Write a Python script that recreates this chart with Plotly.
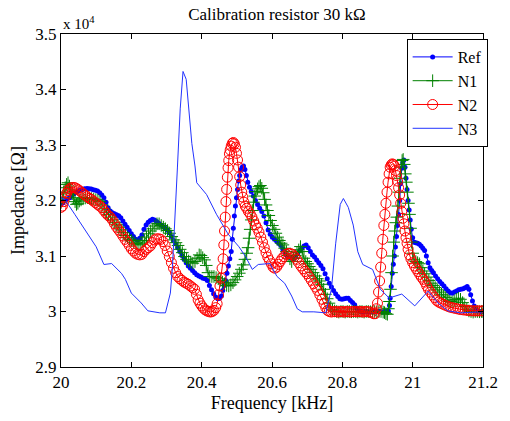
import plotly.graph_objects as go

# ---------------- data (frequency kHz, impedance Ohm) ----------------
ref_pts = [
    (20.000, 31930), (20.006, 31960), (20.012, 32000), (20.018, 32030), (20.025, 32050),
    (20.031, 32090), (20.037, 32120), (20.043, 32150), (20.049, 32170), (20.055, 32190),
    (20.061, 32200), (20.067, 32210), (20.074, 32215), (20.080, 32210), (20.086, 32205),
    (20.092, 32195), (20.098, 32185), (20.104, 32170), (20.110, 32140), (20.116, 32100),
    (20.122, 32050), (20.128, 31970), (20.134, 31870), (20.140, 31810), (20.146, 31780),
    (20.152, 31760), (20.158, 31745), (20.164, 31725), (20.170, 31690), (20.176, 31630),
    (20.182, 31570), (20.188, 31520), (20.194, 31460), (20.200, 31400), (20.206, 31350),
    (20.212, 31300), (20.218, 31290), (20.224, 31320), (20.230, 31380), (20.236, 31480),
    (20.242, 31560), (20.248, 31610), (20.254, 31640), (20.260, 31660), (20.266, 31650),
    (20.272, 31620), (20.278, 31590), (20.284, 31560), (20.290, 31530), (20.296, 31500),
    (20.302, 31470), (20.308, 31420), (20.314, 31350), (20.320, 31280), (20.326, 31220),
    (20.332, 31150), (20.338, 31080), (20.344, 31010), (20.350, 30940), (20.356, 30880),
    (20.362, 30820), (20.368, 30780), (20.374, 30740), (20.380, 30700), (20.386, 30660),
    (20.392, 30640), (20.398, 30620), (20.404, 30600), (20.410, 30590), (20.416, 30560),
    (20.422, 30470), (20.428, 30390), (20.434, 30320), (20.440, 30260), (20.446, 30230),
    (20.451, 30240), (20.456, 30280), (20.460, 30380), (20.464, 30470), (20.468, 30560),
    (20.472, 30690), (20.476, 30820), (20.480, 30950), (20.484, 31080), (20.487, 31300),
    (20.490, 31500), (20.493, 31720), (20.496, 31900), (20.499, 32050), (20.502, 32200),
    (20.505, 32350), (20.508, 32450), (20.511, 32550), (20.515, 32600), (20.519, 32620),
    (20.523, 32560), (20.527, 32450), (20.531, 32330), (20.536, 32240), (20.541, 32160),
    (20.547, 32080), (20.553, 32000), (20.559, 31930), (20.565, 31860), (20.571, 31800),
    (20.577, 31720), (20.583, 31600), (20.589, 31470), (20.595, 31390), (20.601, 31340),
    (20.607, 31300), (20.613, 31270), (20.619, 31230), (20.625, 31190), (20.631, 31120),
    (20.637, 31060), (20.643, 31000), (20.649, 30980), (20.655, 30960), (20.661, 30950),
    (20.667, 30980), (20.673, 31040), (20.679, 31100), (20.685, 31140), (20.691, 31180),
    (20.697, 31200), (20.703, 31150), (20.709, 31080), (20.715, 31020), (20.721, 30980),
    (20.727, 30930), (20.733, 30880), (20.739, 30830), (20.745, 30770), (20.751, 30680),
    (20.757, 30590), (20.763, 30510), (20.769, 30440), (20.775, 30380), (20.781, 30320),
    (20.787, 30270), (20.793, 30230), (20.799, 30220), (20.805, 30230), (20.811, 30240),
    (20.817, 30240), (20.823, 30200), (20.829, 30160), (20.835, 30120), (20.841, 30060),
    (20.847, 30010), (20.853, 30000), (20.859, 29990), (20.865, 30000), (20.871, 30000),
    (20.877, 29990), (20.883, 30000), (20.889, 30000), (20.895, 29990), (20.901, 30000),
    (20.907, 30000), (20.913, 29990), (20.919, 30000), (20.925, 30000), (20.931, 30010),
    (20.934, 30110), (20.936, 30240), (20.939, 30450), (20.942, 30690), (20.945, 30850),
    (20.948, 31000), (20.951, 31160), (20.954, 31350), (20.957, 31550), (20.960, 31750),
    (20.963, 32000), (20.966, 32300), (20.969, 32580), (20.972, 32680), (20.975, 32730),
    (20.978, 32600), (20.981, 32400), (20.984, 32200), (20.987, 32000), (20.990, 31830),
    (20.993, 31650), (20.996, 31480), (21.000, 31330), (21.004, 31250), (21.009, 31240),
    (21.014, 31230), (21.019, 31210), (21.024, 31180), (21.029, 31140), (21.034, 31100),
    (21.039, 31000), (21.044, 30880), (21.049, 30790), (21.054, 30740), (21.059, 30700),
    (21.065, 30640), (21.071, 30590), (21.077, 30540), (21.083, 30500), (21.089, 30460),
    (21.095, 30410), (21.101, 30370), (21.107, 30340), (21.113, 30330), (21.119, 30350),
    (21.125, 30370), (21.131, 30390), (21.137, 30400), (21.143, 30410), (21.149, 30430),
    (21.155, 30450), (21.160, 30400), (21.165, 30300), (21.170, 30190), (21.175, 30100),
    (21.180, 30040), (21.186, 30010), (21.193, 30000), (21.200, 29995),
]

n1_pts = [
    (20.000, 31965), (20.004, 32050), (20.008, 32150), (20.012, 32230), (20.016, 32290),
    (20.020, 32320), (20.024, 32260), (20.028, 32190), (20.032, 32120), (20.036, 32050),
    (20.040, 31980), (20.044, 31930), (20.048, 31950), (20.052, 31990), (20.057, 32010),
    (20.063, 32030), (20.069, 32045), (20.075, 32050), (20.081, 32045), (20.087, 32035),
    (20.093, 32025), (20.099, 32015), (20.105, 32005), (20.111, 31980), (20.117, 31920),
    (20.123, 31850), (20.129, 31790), (20.135, 31750), (20.141, 31700), (20.147, 31650),
    (20.153, 31600), (20.159, 31560), (20.165, 31520), (20.171, 31470), (20.177, 31420),
    (20.183, 31370), (20.189, 31330), (20.195, 31300), (20.201, 31280), (20.207, 31250),
    (20.213, 31220), (20.219, 31200), (20.225, 31220), (20.231, 31250), (20.237, 31280),
    (20.243, 31340), (20.249, 31400), (20.255, 31450), (20.261, 31490), (20.267, 31540),
    (20.273, 31580), (20.279, 31580), (20.285, 31550), (20.291, 31520), (20.297, 31490),
    (20.303, 31460), (20.309, 31410), (20.315, 31350), (20.321, 31290), (20.327, 31240),
    (20.333, 31190), (20.339, 31120), (20.345, 31060), (20.351, 30990), (20.357, 30940),
    (20.363, 30910), (20.369, 30890), (20.375, 30870), (20.381, 30900), (20.387, 30960),
    (20.393, 31020), (20.398, 31010), (20.403, 30970), (20.408, 30930), (20.413, 30830),
    (20.418, 30700), (20.423, 30630), (20.429, 30630), (20.435, 30630), (20.441, 30610),
    (20.447, 30590), (20.453, 30560), (20.459, 30530), (20.465, 30500), (20.471, 30470),
    (20.477, 30460), (20.483, 30480), (20.489, 30520), (20.495, 30570), (20.501, 30630),
    (20.507, 30690), (20.513, 30760), (20.518, 30840), (20.523, 30940), (20.528, 31050),
    (20.532, 31150), (20.535, 31320), (20.538, 31480), (20.541, 31650), (20.544, 31820),
    (20.547, 31970), (20.551, 32080), (20.555, 32160), (20.559, 32210), (20.563, 32250),
    (20.567, 32270), (20.571, 32220), (20.575, 32140), (20.579, 32020), (20.583, 31920),
    (20.587, 31820), (20.591, 31730), (20.596, 31640), (20.601, 31550), (20.606, 31480),
    (20.611, 31410), (20.616, 31340), (20.621, 31280), (20.626, 31230), (20.631, 31200),
    (20.636, 31140), (20.641, 31080), (20.646, 31010), (20.651, 30950), (20.656, 30900),
    (20.661, 30960), (20.666, 31010), (20.671, 31060), (20.676, 31110), (20.681, 31170),
    (20.686, 31080), (20.691, 30960), (20.696, 30900), (20.701, 30860), (20.706, 30810),
    (20.711, 30760), (20.717, 30700), (20.723, 30640), (20.729, 30590), (20.735, 30550),
    (20.741, 30490), (20.747, 30400), (20.752, 30310), (20.757, 30230), (20.762, 30150),
    (20.767, 30080), (20.772, 30030), (20.778, 30010), (20.784, 30000), (20.790, 29990),
    (20.796, 30000), (20.802, 30000), (20.808, 29990), (20.814, 30000), (20.820, 30000),
    (20.826, 29995), (20.832, 30000), (20.838, 30000), (20.844, 29990), (20.850, 30000),
    (20.856, 30000), (20.862, 29990), (20.868, 30000), (20.874, 30000), (20.880, 29995),
    (20.886, 30000), (20.892, 30000), (20.898, 29990), (20.904, 30000), (20.910, 30000),
    (20.916, 29990), (20.920, 29980), (20.924, 29960), (20.928, 29950), (20.931, 30050),
    (20.934, 30180), (20.937, 30400), (20.940, 30700), (20.943, 31000), (20.946, 31250),
    (20.949, 31450), (20.952, 31600), (20.955, 31700), (20.958, 31900), (20.961, 32150),
    (20.964, 32400), (20.967, 32600), (20.970, 32720), (20.973, 32740), (20.976, 32650),
    (20.979, 32480), (20.982, 32330), (20.985, 32150), (20.988, 31950), (20.991, 31750),
    (20.994, 31500), (20.997, 31250), (21.000, 31050), (21.004, 30930), (21.009, 30900),
    (21.014, 30880), (21.019, 30860), (21.024, 30790), (21.029, 30730), (21.034, 30680),
    (21.040, 30620), (21.046, 30560), (21.052, 30510), (21.058, 30470), (21.064, 30430),
    (21.070, 30390), (21.076, 30350), (21.082, 30310), (21.088, 30280), (21.094, 30250),
    (21.100, 30210), (21.106, 30180), (21.112, 30170), (21.118, 30190), (21.124, 30220),
    (21.130, 30240), (21.136, 30220), (21.142, 30160), (21.148, 30090), (21.154, 30040),
    (21.160, 30010), (21.166, 30000), (21.172, 29990), (21.178, 30000), (21.184, 30000),
    (21.190, 29995), (21.196, 30000), (21.200, 30000),
]

n2_pts = [
    (20.000, 31876), (20.004, 31900), (20.008, 31980), (20.012, 32060), (20.016, 32130),
    (20.020, 32180), (20.025, 32215), (20.030, 32230), (20.035, 32235), (20.040, 32230),
    (20.045, 32210), (20.050, 32190), (20.056, 32160), (20.062, 32130), (20.068, 32100),
    (20.074, 32070), (20.080, 32040), (20.086, 32020), (20.092, 31990), (20.098, 31960),
    (20.104, 31930), (20.110, 31900), (20.116, 31870), (20.122, 31820), (20.128, 31770),
    (20.134, 31730), (20.140, 31700), (20.146, 31650), (20.152, 31580), (20.158, 31520),
    (20.164, 31470), (20.170, 31420), (20.176, 31360), (20.182, 31300), (20.188, 31250),
    (20.194, 31190), (20.200, 31130), (20.206, 31090), (20.212, 31050), (20.218, 31030),
    (20.224, 31020), (20.230, 31030), (20.236, 31080), (20.242, 31120), (20.248, 31150),
    (20.254, 31180), (20.260, 31240), (20.266, 31290), (20.272, 31310), (20.278, 31310),
    (20.284, 31300), (20.290, 31260), (20.296, 31190), (20.302, 31090), (20.308, 30990),
    (20.314, 30880), (20.320, 30780), (20.326, 30700), (20.332, 30630), (20.338, 30590),
    (20.344, 30560), (20.350, 30530), (20.356, 30510), (20.362, 30490), (20.368, 30460),
    (20.374, 30430), (20.380, 30400), (20.385, 30310), (20.390, 30210), (20.395, 30150),
    (20.400, 30100), (20.405, 30060), (20.410, 30030), (20.415, 30010), (20.420, 30000),
    (20.425, 29990), (20.430, 30000), (20.435, 30020), (20.440, 30070), (20.444, 30140),
    (20.448, 30300), (20.452, 30460), (20.455, 30600), (20.458, 30780), (20.461, 30950),
    (20.463, 31200), (20.465, 31450), (20.467, 31700), (20.469, 31980), (20.471, 32200),
    (20.473, 32420), (20.475, 32590), (20.477, 32720), (20.479, 32840), (20.481, 32910),
    (20.484, 32980), (20.487, 33030), (20.490, 33045), (20.493, 33020), (20.496, 32960),
    (20.499, 32850), (20.502, 32730), (20.505, 32600), (20.508, 32430), (20.511, 32280),
    (20.514, 32150), (20.517, 32060), (20.520, 31970), (20.524, 31900), (20.528, 31860),
    (20.533, 31800), (20.538, 31760), (20.543, 31700), (20.548, 31630), (20.553, 31560),
    (20.558, 31500), (20.563, 31430), (20.568, 31340), (20.573, 31250), (20.578, 31150),
    (20.583, 31060), (20.588, 30980), (20.593, 30920), (20.598, 30860), (20.603, 30800),
    (20.608, 30780), (20.613, 30800), (20.618, 30850), (20.623, 30900), (20.628, 30950),
    (20.634, 30990), (20.640, 31030), (20.646, 31045), (20.652, 31045), (20.658, 31030),
    (20.664, 30990), (20.670, 30940), (20.676, 30880), (20.682, 30820), (20.688, 30770),
    (20.694, 30720), (20.700, 30680), (20.706, 30620), (20.712, 30560), (20.718, 30500),
    (20.724, 30440), (20.730, 30380), (20.736, 30300), (20.742, 30220), (20.748, 30140),
    (20.753, 30070), (20.758, 30020), (20.763, 30000), (20.769, 29990), (20.775, 30000),
    (20.781, 30000), (20.787, 29990), (20.793, 30000), (20.799, 30000), (20.805, 29990),
    (20.811, 30000), (20.817, 30000), (20.823, 29990), (20.829, 30000), (20.835, 30000),
    (20.841, 29995), (20.847, 30000), (20.853, 30000), (20.859, 29990), (20.865, 30000),
    (20.871, 30000), (20.877, 29990), (20.883, 29980), (20.889, 29960), (20.893, 29960),
    (20.897, 30050), (20.900, 30150), (20.903, 30350), (20.906, 30550), (20.909, 30800),
    (20.912, 31050), (20.915, 31300), (20.918, 31550), (20.921, 31750), (20.924, 31950),
    (20.927, 32150), (20.930, 32330), (20.933, 32480), (20.936, 32600), (20.939, 32640),
    (20.942, 32660), (20.945, 32650), (20.948, 32620), (20.951, 32540), (20.954, 32450),
    (20.957, 32350), (20.960, 32230), (20.963, 32100), (20.966, 31950), (20.969, 31800),
    (20.972, 31680), (20.975, 31580), (20.978, 31450), (20.981, 31330), (20.984, 31230),
    (20.987, 31120), (20.991, 31020), (20.995, 30950), (21.000, 30880), (21.005, 30820),
    (21.010, 30770), (21.015, 30720), (21.020, 30670), (21.025, 30620), (21.030, 30580),
    (21.035, 30530), (21.040, 30460), (21.045, 30400), (21.050, 30350), (21.056, 30300),
    (21.062, 30250), (21.068, 30200), (21.074, 30170), (21.080, 30150), (21.087, 30130),
    (21.094, 30110), (21.101, 30090), (21.108, 30075), (21.115, 30065), (21.122, 30055),
    (21.129, 30045), (21.136, 30035), (21.143, 30030), (21.150, 30025), (21.157, 30020),
    (21.164, 30015), (21.171, 30012), (21.178, 30010), (21.185, 30012), (21.192, 30010),
    (21.200, 30012),
]

n3_pts = [
    (20.000, 32053), (20.011, 32018), (20.039, 31752), (20.075, 31397), (20.100, 31166),
    (20.122, 30847), (20.144, 30864), (20.172, 30687), (20.183, 30580), (20.200, 30332),
    (20.228, 30154), (20.247, 30012), (20.281, 29976), (20.297, 29976), (20.311, 30332),
    (20.317, 30811), (20.325, 32000), (20.331, 32586), (20.339, 33651), (20.347, 34325),
    (20.356, 34183), (20.364, 33651), (20.372, 33030), (20.381, 32622), (20.386, 32320),
    (20.414, 32107), (20.442, 31752), (20.475, 31397), (20.506, 31166), (20.525, 30988),
    (20.544, 30758), (20.561, 30847), (20.581, 30864), (20.594, 30864), (20.614, 30633),
    (20.636, 30509), (20.656, 30278), (20.672, 30048), (20.686, 29994), (20.719, 29994),
    (20.753, 29976), (20.769, 30403), (20.781, 31219), (20.794, 31929), (20.803, 32036),
    (20.817, 31876), (20.831, 31557), (20.844, 31077), (20.858, 30847), (20.886, 30758),
    (20.908, 30403), (20.933, 30243), (20.969, 30314), (21.006, 30101), (21.044, 30367),
    (21.072, 30154), (21.100, 30012), (21.136, 29976), (21.200, 29994),
]

x_ticks = [20, 20.2, 20.4, 20.6, 20.8, 21, 21.2]
x_tick_text = ["20", "20.2", "20.4", "20.6", "20.8", "21", "21.2"]
y_ticks = [29000, 30000, 31000, 32000, 33000, 34000, 35000]
y_tick_text = ["2.9", "3", "3.1", "3.2", "3.3", "3.4", "3.5"]

FONT = "'Times New Roman', 'Liberation Serif', 'DejaVu Serif', serif"


def unzip(pts):
    return [p[0] for p in pts], [p[1] for p in pts]


fig = go.Figure()
fx, fz = unzip(ref_pts)
fig.add_trace(go.Scatter(x=fx, y=fz, name="Ref", mode="lines+markers",
                         line=dict(color="#0000ff", width=1),
                         marker=dict(symbol="circle", size=5, color="#0000ff")))
fx, fz = unzip(n1_pts)
fig.add_trace(go.Scatter(x=fx, y=fz, name="N1", mode="lines+markers",
                         line=dict(color="#008000", width=1),
                         marker=dict(symbol="cross-thin", size=9,
                                     line=dict(color="#008000", width=1))))
fx, fz = unzip(n2_pts)
fig.add_trace(go.Scatter(x=fx, y=fz, name="N2", mode="lines+markers",
                         line=dict(color="#ff0000", width=1),
                         marker=dict(symbol="circle-open", size=10, color="#ff0000",
                                     line=dict(color="#ff0000", width=1))))
fx, fz = unzip(n3_pts)
fig.add_trace(go.Scatter(x=fx, y=fz, name="N3", mode="lines",
                         line=dict(color="#2233ff", width=1)))

fig.update_layout(
    width=510, height=421,
    margin=dict(l=61, r=17, t=34, b=49),
    paper_bgcolor="white", plot_bgcolor="white",
    font=dict(family=FONT, size=16, color="black"),
    title=dict(text="Calibration resistor 30 kΩ", x=0.543, xanchor="center",
               y=0.966, yanchor="middle", font=dict(family=FONT, size=17)),
    showlegend=True,
    legend=dict(x=1.011, xanchor="right", y=0.985, yanchor="top",
                bgcolor="white", bordercolor="black", borderwidth=1,
                font=dict(family=FONT, size=16), tracegroupgap=0,
                itemwidth=40),
)
fig.update_xaxes(range=[20, 21.2], tickvals=x_ticks, ticktext=x_tick_text,
                 showline=True, linecolor="black", linewidth=1, mirror="ticks",
                 ticks="inside", ticklen=5, tickcolor="black", showgrid=False,
                 zeroline=False, tickfont=dict(family=FONT, size=17),
                 title=dict(text="Frequency [kHz]", font=dict(family=FONT, size=18), standoff=4))
fig.update_yaxes(range=[29000, 35000], tickvals=y_ticks, ticktext=y_tick_text,
                 showline=True, linecolor="black", linewidth=1, mirror="ticks",
                 ticks="inside", ticklen=5, tickcolor="black", showgrid=False,
                 zeroline=False, tickfont=dict(family=FONT, size=17),
                 title=dict(text="Impedance [Ω]", font=dict(family=FONT, size=18), standoff=6))
fig.add_annotation(text="x 10<sup>4</sup>", xref="paper", yref="paper",
                   x=0.0, y=1.0, xanchor="left", yanchor="bottom", showarrow=False,
                   font=dict(family=FONT, size=15), yshift=0)

fig.write_html("out.html")
